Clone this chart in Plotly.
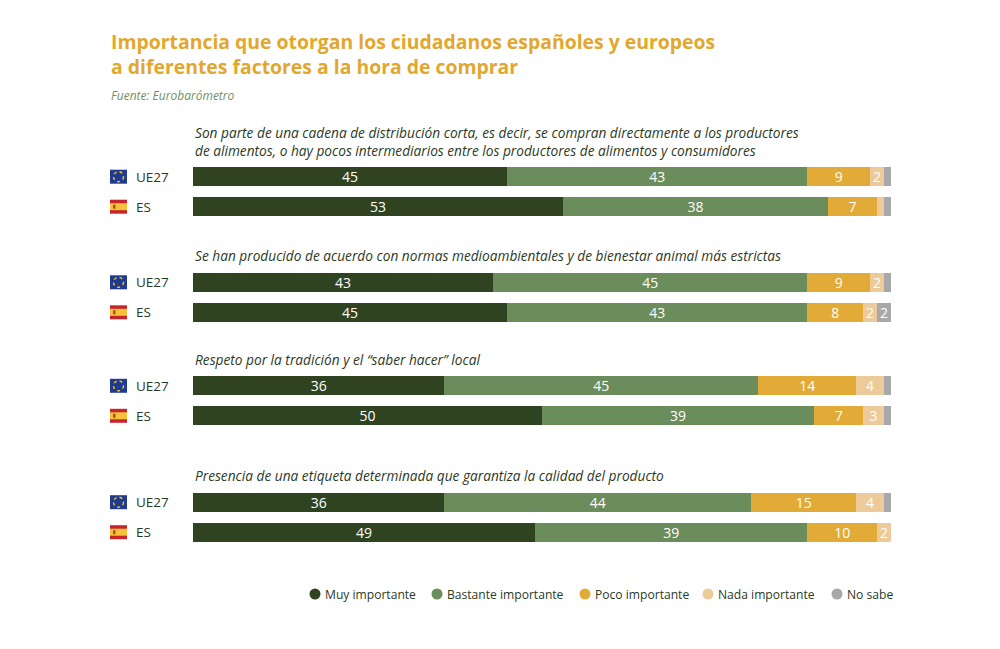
import plotly.graph_objects as go

# Datos (Eurobarómetro)
factores = [
    "Son parte de una cadena de distribución corta, es decir, se compran directamente a los productores<br>de alimentos, o hay pocos intermediarios entre los productores de alimentos y consumidores",
    "Se han producido de acuerdo con normas medioambientales y de bienestar animal más estrictas",
    "Respeto por la tradición y el “saber hacer” local",
    "Presencia de una etiqueta determinada que garantiza la calidad del producto",
]
zonas = ["UE27", "ES"]
categorias = ["Muy importante", "Bastante importante", "Poco importante", "Nada importante", "No sabe"]

# valores por factor: [UE27, ES]
muy_importante = [45, 53, 43, 45, 36, 50, 36, 49]
bastante_importante = [43, 38, 45, 43, 45, 39, 44, 39]
poco_importante = [9, 7, 9, 8, 14, 7, 15, 10]
nada_importante = [2, 1, 2, 2, 4, 3, 4, 2]
no_sabe = [1, 1, 1, 2, 1, 1, 1, 0]

series = [muy_importante, bastante_importante, poco_importante, nada_importante, no_sabe]
colores = ["#2f4321", "#6b8c5b", "#e2ab37", "#ecca9a", "#a8a8aa"]

# Layout (coordenadas de pantalla; la página añade 8px de margen)
OFF = 8
W, H = 1000, 649
ML, MR, MT, MB = 193 - OFF, 1000 - (891 - OFF), 110 - OFF, 649 - (570 - OFF)
ROW_PX = 30.0
group_offsets = [0, 3.52, 6.97, 10.85]
legend_x = [315, 437, 585, 708, 837]
FONT = "Open Sans"
TXT = "#2b3a1f"

plot_h = H - MT - MB
y_top = (110 - 176.7) / ROW_PX
y_bot = y_top + plot_h / ROW_PX


def px_x(p):
    return (p - OFF - ML) / (W - ML - MR)


def px_y(p):
    return (H - MB - (p - OFF)) / plot_h


def px_rows(p):
    return p / ROW_PX


rows_y = []
for g in group_offsets:
    rows_y += [g, g + 1]

fig = go.Figure()

for nombre, vals, col in zip(categorias, series, colores):
    etiquetas = [str(v) if v >= 2 and not (nombre == "Nada importante" and i == 1) else "" for i, v in enumerate(vals)]
    fig.add_trace(go.Bar(
        x=vals, y=rows_y, orientation="h", name=nombre,
        marker=dict(color=col, line=dict(width=0)),
        width=0.63,
        text=etiquetas, textposition="inside", insidetextanchor="middle",
        textangle=0,
        textfont=dict(family=FONT, size=14, color="white"),
        showlegend=False, hoverinfo="skip",
    ))

annotations = []
shapes = []

# título
for texto, yc in [("Importancia que otorgan los ciudadanos españoles y europeos", 42),
                  ("a diferentes factores a la hora de comprar", 66)]:
    annotations.append(dict(
        text="<b>" + texto + "</b>",
        xref="paper", yref="paper", x=px_x(109), y=px_y(yc), xanchor="left", yanchor="middle",
        showarrow=False, font=dict(family=FONT, size=19.4, color="#e2a72e"),
    ))
annotations.append(dict(
    text="<i>Fuente: Eurobarómetro</i>",
    xref="paper", yref="paper", x=px_x(109), y=px_y(96), xanchor="left", yanchor="middle",
    showarrow=False, font=dict(family=FONT, size=12, color="#6e9160"),
))

for g, factor in zip(group_offsets, factores):
    annotations.append(dict(
        text="<i>" + factor + "</i>",
        xref="x", yref="y", x=0, y=g - 0.5, xanchor="left", yanchor="bottom",
        align="left", showarrow=False,
        font=dict(family=FONT, size=13.7, color=TXT),
    ))
    for k, zona in enumerate(zonas):
        yc = g + k
        annotations.append(dict(
            text=zona, xref="paper", yref="y", x=px_x(134), y=yc,
            xanchor="left", yanchor="middle", showarrow=False,
            font=dict(family=FONT, size=13.5, color=TXT),
        ))
        fh = px_rows(7)
        if zona == "UE27":
            shapes.append(dict(type="rect", xref="paper", yref="y",
                               x0=px_x(110), x1=px_x(127), y0=yc - fh, y1=yc + fh,
                               fillcolor="#1f3a93", line=dict(width=0)))
            shapes.append(dict(type="circle", xref="paper", yref="y",
                               x0=px_x(113.5), x1=px_x(123.5), y0=yc - px_rows(5), y1=yc + px_rows(5),
                               line=dict(color="#f3c316", width=1.4, dash="dot")))
        else:
            shapes.append(dict(type="rect", xref="paper", yref="y",
                               x0=px_x(110), x1=px_x(127), y0=yc - fh, y1=yc + fh,
                               fillcolor="#c8242b", line=dict(width=0)))
            shapes.append(dict(type="rect", xref="paper", yref="y",
                               x0=px_x(110), x1=px_x(127), y0=yc - fh / 2, y1=yc + fh / 2,
                               fillcolor="#f6c23a", line=dict(width=0)))
            shapes.append(dict(type="rect", xref="paper", yref="y",
                               x0=px_x(113), x1=px_x(115.5), y0=yc - px_rows(2), y1=yc + px_rows(2),
                               fillcolor="#b34a2c", line=dict(width=0)))

# leyenda con círculos
LEG_Y = 594
for nombre, col, lx in zip(categorias, colores, legend_x):
    shapes.append(dict(type="circle", xref="paper", yref="paper",
                       x0=px_x(lx - 5.5), x1=px_x(lx + 5.5), y0=px_y(LEG_Y + 5.5), y1=px_y(LEG_Y - 5.5),
                       fillcolor=col, line=dict(width=0)))
    annotations.append(dict(
        text=nombre, xref="paper", yref="paper", x=px_x(lx + 8), y=px_y(LEG_Y),
        xanchor="left", yanchor="middle", showarrow=False,
        font=dict(family=FONT, size=12.1, color=TXT),
    ))

fig.update_layout(
    width=W, height=H,
    margin=dict(l=ML, r=MR, t=MT, b=MB),
    paper_bgcolor="white", plot_bgcolor="white",
    barmode="stack", barnorm="percent",
    xaxis=dict(visible=False, range=[0, 100], fixedrange=True),
    yaxis=dict(visible=False, range=[y_bot, y_top], fixedrange=True),
    uniformtext=dict(minsize=13, mode="show"),
    annotations=annotations,
    shapes=shapes,
    showlegend=False,
    font=dict(family=FONT),
)

fig.write_html("out.html")
